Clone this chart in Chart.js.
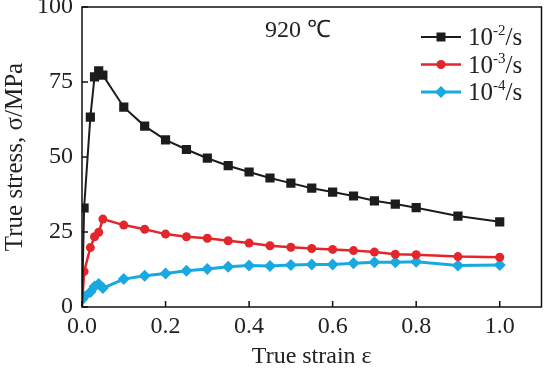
<!DOCTYPE html>
<html lang="en">
<head>
<meta charset="UTF-8">
<title>True stress vs true strain</title>
<script src="https://cdn.jsdelivr.net/npm/chart.js"></script>
<style>
  html, body { margin: 0; padding: 0; background: #fff; }
  #wrap { width: 548px; height: 371px; }
</style>
</head>
<body>
<div id="wrap"><canvas id="flow" width="548" height="371"></canvas></div>
<script>
// data
const strain  = [0, 0.005, 0.02, 0.03, 0.04, 0.05, 0.1, 0.15, 0.2, 0.25, 0.3, 0.35, 0.4, 0.45, 0.5, 0.55, 0.6, 0.65, 0.7, 0.75, 0.8, 0.9, 1.0];
const stressE2 = [0, 33, 63.3, 76.7, 78.7, 77.3, 66.6, 60.3, 55.7, 52.5, 49.6, 47.1, 45, 43, 41.3, 39.6, 38.3, 37, 35.4, 34.3, 33.1, 30.3, 28.4];
const stressE3 = [0, 11.8, 19.8, 23.4, 24.9, 29.3, 27.3, 25.9, 24.3, 23.4, 22.9, 22.1, 21.3, 20.4, 19.9, 19.5, 19.2, 18.8, 18.3, 17.6, 17.4, 16.8, 16.6];
const stressE4 = [2.5, 3.4, 5, 6.8, 7.7, 6.3, 9.3, 10.4, 11.2, 12.1, 12.7, 13.4, 13.8, 13.7, 14, 14.2, 14.2, 14.6, 14.9, 14.9, 15.1, 13.8, 14];
const rateExp = ['-2', '-3', '-4'];
const xTicks = [0, 0.2, 0.4, 0.6, 0.8, 1.0];
const yTicks = [0, 25, 50, 75, 100];
const tempLabel = '920 \u2103';

const FONT = '"Liberation Serif", "Times New Roman", serif';
const TXT = '#222';

const pts = (ys) => strain.map((x, i) => ({ x: x, y: ys[i] }));
// first point of the fast curves is the origin, drawn without a marker
const hideFirst = (r) => strain.map((s, i) => i === 0 ? 0 : r);

const datasets = [
  { label: rateExp[0], data: pts(stressE2), borderColor: '#1c1c1c', backgroundColor: '#1c1c1c',
    borderWidth: 2, pointStyle: 'rect', pointRadius: hideFirst(6.5), pointBorderWidth: 0 },
  { label: rateExp[1], data: pts(stressE3), borderColor: '#e3262b', backgroundColor: '#e3262b',
    borderWidth: 2.5, pointStyle: 'circle', pointRadius: hideFirst(4.5), pointBorderWidth: 0 },
  { label: rateExp[2], data: pts(stressE4), borderColor: '#19a9e1', backgroundColor: '#19a9e1',
    borderWidth: 3, pointStyle: 'rectRot', pointRadius: 6, pointBorderWidth: 0 }
];

// frame, inward ticks, temperature label and legend
const decor = {
  id: 'decor',
  afterDraw(chart) {
    const ctx = chart.ctx;
    const a = chart.chartArea;
    const xs = chart.scales.x, ys = chart.scales.y;
    ctx.save();
    ctx.strokeStyle = '#111';
    ctx.lineWidth = 1.5;
    ctx.strokeRect(a.left, a.top, a.right - a.left, a.bottom - a.top);
    ctx.beginPath();
    xTicks.forEach(v => {
      const px = xs.getPixelForValue(v);
      ctx.moveTo(px, a.bottom); ctx.lineTo(px, a.bottom - 6);
    });
    yTicks.forEach(v => {
      const py = ys.getPixelForValue(v);
      ctx.moveTo(a.left, py); ctx.lineTo(a.left + 6, py);
    });
    ctx.stroke();

    // temperature
    ctx.fillStyle = TXT;
    ctx.font = '24px ' + FONT;
    ctx.textAlign = 'center';
    ctx.textBaseline = 'middle';
    ctx.fillText(tempLabel, 298, 31);

    // legend
    ctx.textAlign = 'left';
    ctx.textBaseline = 'alphabetic';
    chart.data.datasets.forEach((ds, i) => {
      const cy = 37 + i * 27.5;
      ctx.strokeStyle = ds.borderColor;
      ctx.lineWidth = ds.borderWidth;
      ctx.beginPath(); ctx.moveTo(421, cy); ctx.lineTo(461, cy); ctx.stroke();
      ctx.fillStyle = ds.backgroundColor;
      ctx.beginPath();
      if (ds.pointStyle === 'rect') ctx.rect(436.5, cy - 4.5, 9, 9);
      else if (ds.pointStyle === 'circle') ctx.arc(441, cy, 4.5, 0, Math.PI * 2);
      else { ctx.moveTo(441, cy - 6); ctx.lineTo(447, cy); ctx.lineTo(441, cy + 6); ctx.lineTo(435, cy); ctx.closePath(); }
      ctx.fill();
      const base = cy + 8;
      ctx.fillStyle = TXT;
      ctx.font = '25px ' + FONT;
      ctx.fillText('10', 468, base);
      let x = 468 + ctx.measureText('10').width;
      ctx.font = '15px ' + FONT;
      ctx.fillText(ds.label, x, base - 10);
      x += ctx.measureText(ds.label).width;
      ctx.font = '25px ' + FONT;
      ctx.fillText('/s', x, base);
    });
    ctx.restore();
  }
};

new Chart(document.getElementById('flow'), {
  type: 'line',
  data: { datasets: datasets },
  options: {
    responsive: false,
    animation: false,
    layout: { padding: { top: 7, right: 0, left: 0, bottom: 0 } },
    plugins: { legend: { display: false }, tooltip: { enabled: false } },
    scales: {
      x: {
        type: 'linear', min: 0, max: 1.1,
        afterBuildTicks: s => { s.ticks = xTicks.map(v => ({ value: v })); },
        afterFit: s => { s.height = 64; s.paddingLeft = 0; s.paddingRight = 0; },
        grid: { display: false, drawTicks: false },
        border: { display: false },
        ticks: { color: TXT, font: { family: FONT, size: 24 }, padding: 5,
                 maxRotation: 0, callback: v => Number(v).toFixed(1) },
        title: { display: true, text: 'True strain \u03b5', color: TXT,
                 font: { family: FONT, size: 24 }, padding: { top: 0, bottom: 0 } }
      },
      y: {
        type: 'linear', min: 0, max: 100,
        afterBuildTicks: s => { s.ticks = yTicks.map(v => ({ value: v })); },
        afterFit: s => { s.width = 82; s.paddingTop = 0; s.paddingBottom = 0; },
        grid: { display: false, drawTicks: false },
        border: { display: false },
        ticks: { color: TXT, font: { family: FONT, size: 24 }, padding: 9 },
        title: { display: true, text: 'True stress, \u03c3/MPa', color: TXT,
                 font: { family: FONT, size: 25 }, padding: { top: 0, bottom: 0 } }
      }
    }
  },
  plugins: [decor]
});
</script>
</body>
</html>
